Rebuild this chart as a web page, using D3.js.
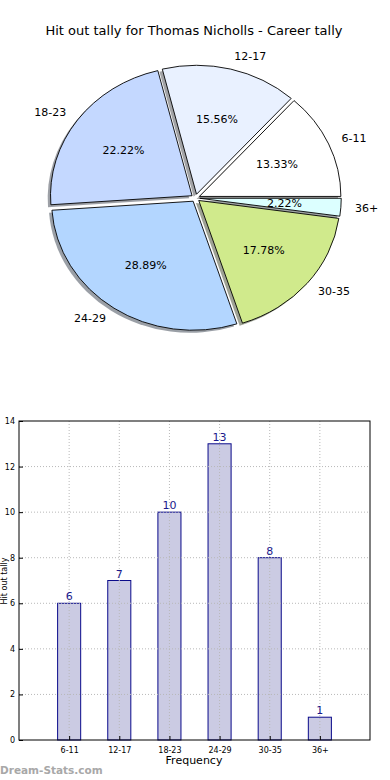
<!DOCTYPE html>
<html>
<head>
<meta charset="utf-8">
<script src="https://cdn.jsdelivr.net/npm/d3@7"></script>
<style>
  body { margin: 0; background: #fff; }
  svg { display: block; font-family: "DejaVu Sans", sans-serif; }
</style>
</head>
<body>
<div id="chart"></div>
<script>
// data
const categories = ["6-11", "12-17", "18-23", "24-29", "30-35", "36+"];
const tally = [6, 7, 10, 13, 8, 1];
const sliceColors = ["#ffffff", "#e9f1ff", "#c4d8ff", "#b3d6ff", "#d0ea8c", "#dcffff"];
const yTicks = [0, 2, 4, 6, 8, 10, 12, 14];

const width = 390, height = 780;

const svg = d3.select("#chart")
    .append("svg")
    .attr("width", width)
    .attr("height", height);

// title
svg.append("text")
    .attr("x", 194)
    .attr("y", 35)
    .attr("text-anchor", "middle")
    .style("font-size", "13px")
    .text("Hit out tally for Thomas Nicholls - Career tally");

// ---- pie (elliptical, like an old matplotlib pie without equal axes) ----
const cx = 195.5, cy = 198, rx = 141.5, ry = 129;
const explode = 0.03;

const total = d3.sum(tally);
// start at 3 o'clock, counter-clockwise
const pie = d3.pie().sort(null).startAngle(Math.PI / 2).endAngle(Math.PI / 2 - 2 * Math.PI);
const slices = pie(tally);

const arcUnit = d3.arc().innerRadius(0).outerRadius(1);

slices.forEach((d, i) => {
    const mid = Math.PI / 2 - (d.startAngle + d.endAngle) / 2; // math angle
    d.mid = mid;
    d.ox = explode * rx * Math.cos(mid);
    d.oy = -explode * ry * Math.sin(mid);
});

const pieG = svg.append("g");

// shadows first
pieG.selectAll(".shadow")
    .data(slices)
    .join("path")
    .attr("class", "shadow")
    .attr("transform", d => `translate(${cx + d.ox - 0.02 * rx},${cy + d.oy + 0.02 * ry}) scale(${rx},${ry})`)
    .attr("d", arcUnit)
    .attr("fill", (d, i) => {
        const c = d3.rgb(sliceColors[i]);
        return d3.rgb(c.r * 0.3, c.g * 0.3, c.b * 0.3);
    })
    .attr("fill-opacity", 0.5);

pieG.selectAll(".slice")
    .data(slices)
    .join("path")
    .attr("class", "slice")
    .attr("transform", d => `translate(${cx + d.ox},${cy + d.oy}) scale(${rx},${ry})`)
    .attr("d", arcUnit)
    .attr("fill", (d, i) => sliceColors[i])
    .attr("stroke", "#000")
    .attr("stroke-width", 0.9)
    .attr("vector-effect", "non-scaling-stroke");

// percentage labels
pieG.selectAll(".pct")
    .data(slices)
    .join("text")
    .attr("x", d => cx + d.ox + 0.6 * rx * Math.cos(d.mid))
    .attr("y", d => cy + d.oy - 0.6 * ry * Math.sin(d.mid))
    .attr("text-anchor", "middle")
    .attr("dominant-baseline", "central")
    .style("font-size", "11px")
    .text(d => (d.value / total * 100).toFixed(2) + "%");

// category labels
pieG.selectAll(".lbl")
    .data(slices)
    .join("text")
    .attr("x", d => cx + d.ox + 1.1 * rx * Math.cos(d.mid))
    .attr("y", d => cy + d.oy - 1.1 * ry * Math.sin(d.mid))
    .attr("text-anchor", d => Math.cos(d.mid) > 0 ? "start" : "end")
    .attr("dominant-baseline", "central")
    .style("font-size", "11px")
    .text((d, i) => categories[i]);

// ---- bar chart ----
const plotLeft = 19, plotRight = 370, plotTop = 421, plotBottom = 740;

const x = d3.scalePoint()
    .domain(categories)
    .range([plotLeft, plotRight])
    .padding(1);

const y = d3.scaleLinear()
    .domain([0, 14])
    .range([plotBottom, plotTop]);

const barW = x.step() * 0.46;

const barG = svg.append("g");

// bars
barG.selectAll(".bar")
    .data(tally)
    .join("rect")
    .attr("x", (d, i) => x(categories[i]) - barW / 2)
    .attr("y", d => y(d))
    .attr("width", barW)
    .attr("height", d => y(0) - y(d))
    .attr("fill", "#cbcbe3")
    .attr("stroke", "#0a0a8a")
    .attr("stroke-width", 1);

// grid (dotted) drawn over bars
barG.selectAll(".hgrid")
    .data(yTicks.slice(1, -1))
    .join("line")
    .attr("x1", plotLeft).attr("x2", plotRight)
    .attr("y1", d => y(d)).attr("y2", d => y(d))
    .attr("stroke", "#b8b8b8")
    .attr("stroke-dasharray", "1,2");

barG.selectAll(".vgrid")
    .data(categories)
    .join("line")
    .attr("x1", d => x(d)).attr("x2", d => x(d))
    .attr("y1", plotTop).attr("y2", plotBottom)
    .attr("stroke", "#b8b8b8")
    .attr("stroke-dasharray", "1,2");

// value labels
barG.selectAll(".val")
    .data(tally)
    .join("text")
    .attr("x", (d, i) => x(categories[i]))
    .attr("y", d => y(d) - 3)
    .attr("text-anchor", "middle")
    .attr("fill", "#1a1a8c")
    .style("font-size", "11px")
    .text(d => d);

// frame
barG.append("rect")
    .attr("x", plotLeft).attr("y", plotTop)
    .attr("width", plotRight - plotLeft).attr("height", plotBottom - plotTop)
    .attr("fill", "none")
    .attr("stroke", "#000")
    .attr("stroke-width", 1);

// axes
const yAxis = d3.axisLeft(y).tickValues(yTicks).tickSize(-4).tickPadding(4);
const gy = barG.append("g")
    .attr("transform", `translate(${plotLeft},0)`)
    .call(yAxis);
gy.select(".domain").remove();
gy.selectAll("text").style("font-size", "8px").attr("font-family", "DejaVu Sans");

const xAxis = d3.axisBottom(x).tickSize(-4).tickPadding(7);
const gx = barG.append("g")
    .attr("transform", `translate(0,${plotBottom})`)
    .call(xAxis);
gx.select(".domain").remove();
gx.selectAll("text").style("font-size", "8px").attr("font-family", "DejaVu Sans");

svg.append("text")
    .attr("x", 194)
    .attr("y", 764)
    .attr("text-anchor", "middle")
    .style("font-size", "11px")
    .text("Frequency");

// y label sits in the narrow left gutter
svg.append("text")
    .attr("transform", "translate(7,581) rotate(-90)")
    .attr("text-anchor", "middle")
    .style("font-size", "8px")
    .text("Hit out tally");

// watermark
svg.append("text")
    .attr("x", 0)
    .attr("y", 774)
    .attr("fill", "#a8a8a8")
    .style("font-size", "10.5px")
    .style("font-weight", "bold")
    .text("Dream-Stats.com");
</script>
</body>
</html>
